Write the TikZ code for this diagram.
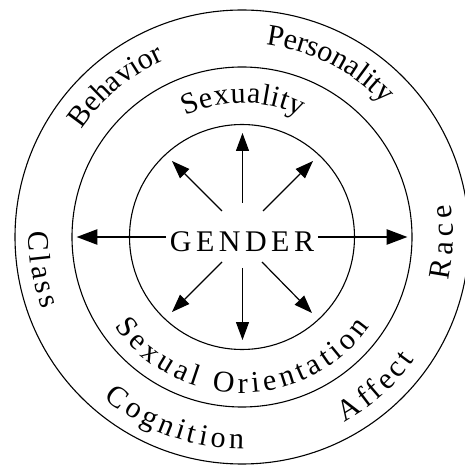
\documentclass[tikz,border=0pt]{standalone}
\usepackage{fontspec}
\setmainfont{Liberation Serif}
\usepackage{tikz}
\usetikzlibrary{arrows.meta,decorations.text}
\newcommand{\ringfont}{\fontsize{30}{30}\selectfont}

\begin{document}
\begin{tikzpicture}[x=1pt,y=1pt,
  ring/.style={draw,circle,line width=1.1pt,inner sep=0pt},
  hub/.style={font=\ringfont,inner xsep=3.5pt,inner ysep=0pt},
  fl/.style={-{Triangle[length=18pt,width=13pt]},line width=1.2pt},
  bigfl/.style={-{Triangle[length=21pt,width=15pt]},line width=2.6pt,shorten >=5pt},
  curved/.style={decorate,decoration={text along path,text align=center,text={|\ringfont|#1}}},
  spread/.style={decorate,decoration={text along path,text align=fit to path,text={|\ringfont|#1}}}
]
\useasboundingbox (-242,-228) rectangle (223,237);
\coordinate (c) at (0,0);
\node[ring,minimum size=225pt] (inner) at (c) {};
\node[ring,minimum size=340pt] (middle) at (c) {};
\node[ring,minimum size=454pt] (outer) at (c) {};
\node[hub] (gender) at (0,-4.5) {G\kern4.5pt E\kern4.5pt N\kern4.5pt D\kern4.5pt E\kern4.5pt R};
% spokes
\coordinate (up0) at (0.5,34);
\coordinate (up1) at (0.5,104);
\coordinate (dn0) at (0.5,-31);
\coordinate (dn1) at (0.5,-103);
\coordinate (ul0) at (-20,26);
\coordinate (ul1) at (-70,76);
\coordinate (ur0) at (21,26);
\coordinate (ur1) at (71,76);
\coordinate (dl0) at (-20,-25);
\coordinate (dl1) at (-70,-75);
\coordinate (dr0) at (20,-25);
\coordinate (dr1) at (70,-76);
\draw[fl] (up0) -- (up1);
\draw[fl] (dn0) -- (dn1);
\draw[fl] (ul0) -- (ul1);
\draw[fl] (ur0) -- (ur1);
\draw[fl] (dl0) -- (dl1);
\draw[fl] (dr0) -- (dr1);
\draw[bigfl] (gender.west |- c) -- (middle.west);
\draw[bigfl] (gender.east |- c) -- (middle.east);
% ring labels
\path[curved=Behavior] (160:193) arc[start angle=160,end angle=100,radius=193];
\path[curved=Personality] (95:194) arc[start angle=95,end angle=31,radius=194];
\path[spread=Race] (-12:211) arc[start angle=-12,end angle=9,radius=211];
\path[spread=Affect] (-61:212) arc[start angle=-61,end angle=-35.5,radius=212];
\path[spread=Cognition] (229.4:212) arc[start angle=229.4,end angle=270.5,radius=212];
\path[spread=Class] (178.6:213) arc[start angle=178.6,end angle=200,radius=213];
\path[spread=Sexuality] (115:134) arc[start angle=115,end angle=64,radius=134];
\path[spread={Sexual Orientation}] (215:156) arc[start angle=215,end angle=325,radius=156];
\end{tikzpicture}
\end{document}
